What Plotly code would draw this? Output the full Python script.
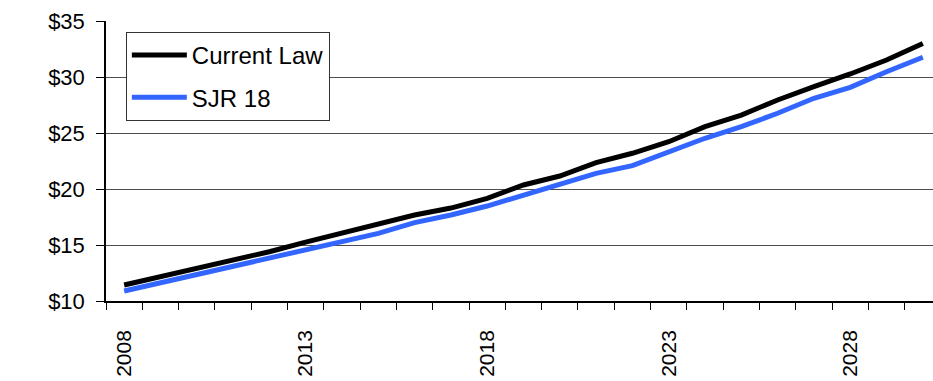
import plotly.graph_objects as go

# Projected values (dollars) by year
years = list(range(2008, 2031))
current_law = [11.43, 12.17, 12.92, 13.66, 14.40, 15.25, 16.05, 16.79, 17.68, 18.30,
               19.17, 20.36, 21.16, 22.35, 23.19, 24.22, 25.57, 26.60, 27.95, 29.14,
               30.27, 31.52, 33.00]
sjr_18 = [10.89, 11.64, 12.38, 13.07, 13.81, 14.58, 15.30, 16.04, 17.00, 17.68,
          18.48, 19.46, 20.36, 21.40, 22.08, 23.33, 24.53, 25.57, 26.76, 28.10,
          29.08, 30.47, 31.76]
label_years = [2008, 2013, 2018, 2023, 2028]
y_ticks = [10, 15, 20, 25, 30, 35]

FONT = "Liberation Sans, Arial, sans-serif"

fig = go.Figure()
fig.add_trace(go.Scatter(x=years, y=current_law, mode="lines", name="Current Law",
                         legendgroup="a",
                         line=dict(color="#000000", width=5)))
fig.add_trace(go.Scatter(x=years, y=sjr_18, mode="lines", name="SJR 18",
                         legendgroup="b",
                         line=dict(color="#3366ff", width=5)))

fig.update_layout(
    width=933, height=381,
    margin=dict(l=106, r=0, t=21, b=80),
    paper_bgcolor="white", plot_bgcolor="white",
    font=dict(family=FONT, color="#000000"),
    showlegend=True,
    legend=dict(
        x=0.024, y=0.961, xanchor="left", yanchor="top",
        bordercolor="#333333", borderwidth=1, bgcolor="white",
        font=dict(size=24, family=FONT),
        traceorder="grouped", tracegroupgap=8,
        itemwidth=55,
    ),
)

fig.update_xaxes(
    range=[2007.5, 2030.28],
    automargin=False,
    tickmode="array", tickvals=label_years,
    ticktext=[str(y) for y in label_years],
    tickangle=-90,
    ticks="outside", ticklen=7, tickcolor="rgba(0,0,0,0)",
    ticklabelstandoff=12,
    tickfont=dict(size=21, family=FONT),
    minor=dict(ticks="outside", tick0=2007.5, dtick=1, ticklen=7,
               tickcolor="#000000", tickwidth=1, showgrid=False),
    showgrid=False, zeroline=False,
    showline=True, linecolor="#000000", linewidth=1.5,
)

fig.update_yaxes(
    range=[10, 35],
    automargin=False,
    tickmode="array", tickvals=y_ticks,
    ticktext=[f"${v}" for v in y_ticks],
    ticks="outside", ticklen=8, tickcolor="#000000",
    ticklabelstandoff=7,
    tickfont=dict(size=22, family=FONT),
    showgrid=True, gridcolor="#4d4d4d", gridwidth=1,
    zeroline=False,
    showline=True, linecolor="#000000", linewidth=1.5,
)

fig.write_html("out.html")
